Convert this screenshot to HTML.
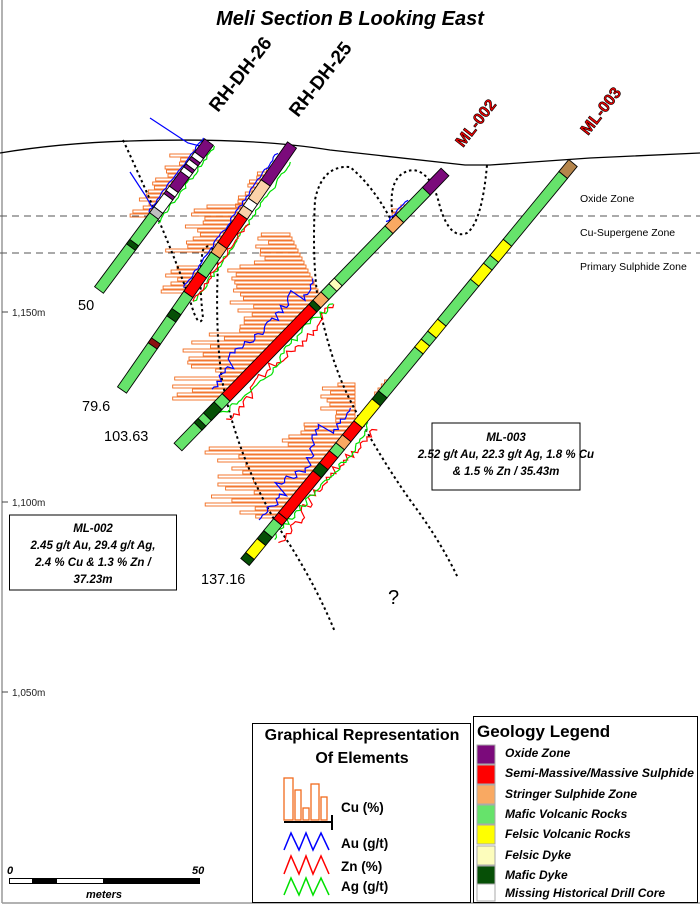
<!DOCTYPE html>
<html><head><meta charset="utf-8"><style>
html,body{margin:0;padding:0;background:#fff}
svg{display:block}
text{font-family:"Liberation Sans",sans-serif}
.lg{font-weight:bold;font-style:italic;font-size:12px}
</style></head><body>
<svg id="s" width="700" height="905" viewBox="0 0 700 905" xmlns="http://www.w3.org/2000/svg">
<rect x="0" y="0" width="700" height="905" fill="#fff"/>
<line x1="2" y1="0" x2="2" y2="903" stroke="#999" stroke-width="1.5"/>
<line x1="2" y1="903" x2="700" y2="903" stroke="#999" stroke-width="1.5"/>
<text x="350" y="25" text-anchor="middle" font-size="20" font-weight="bold" font-style="italic">Meli Section B Looking East</text>
<line x1="0" y1="216" x2="700" y2="216" stroke="#555" stroke-width="1" stroke-dasharray="7,5"/>
<line x1="0" y1="253" x2="700" y2="253" stroke="#555" stroke-width="1" stroke-dasharray="7,5"/>
<text x="580" y="202" font-size="10.5">Oxide Zone</text>
<text x="580" y="236" font-size="10.5">Cu-Supergene Zone</text>
<text x="580" y="270" font-size="10.5">Primary Sulphide Zone</text>
<path d="M0,153 Q60,143 130,141 Q250,137 330,150 L465,165 L490,165 L590,158 L700,153" fill="none" stroke="#000" stroke-width="1.3"/>
<g font-size="10" fill="#222">
<line x1="2" y1="312" x2="8" y2="312" stroke="#444"/><text x="12" y="316">1,150m</text>
<line x1="2" y1="502" x2="8" y2="502" stroke="#444"/><text x="12" y="506">1,100m</text>
<line x1="2" y1="692" x2="8" y2="692" stroke="#444"/><text x="12" y="696">1,050m</text>
</g>
<g id="bars" fill="none" stroke="#f26b1d" stroke-width="0.9"></g>
<g id="dots" fill="none" stroke="#000" stroke-width="2" stroke-dasharray="2.5,3">
<path d="M123,140 Q165,230 190,300 Q198,330 203,318 Q198,275 203,250 Q212,238 218,265 Q215,330 222,380 Q240,470 290,545 Q318,590 335,632"/>
<path d="M390,218 Q372,185 350,167 Q322,165 315,200 Q312,260 318,300 Q330,360 350,400 Q375,450 410,500 Q440,540 458,578"/>
<path d="M393,218 Q386,173 413,170 Q432,172 440,207 Q450,240 467,233 Q482,222 487,165"/>
</g>
<g id="elem" fill="none" stroke-width="1.2"></g>
<g id="holes" stroke="#000" stroke-width="0.9"></g>
<g font-weight="bold" font-size="19">
<text transform="translate(218,113) rotate(-52)">RH-DH-26</text>
<text transform="translate(298,118) rotate(-52)">RH-DH-25</text>
<text transform="translate(463,148) rotate(-52)" fill="#e00" stroke="#000" stroke-width="0.6" font-size="16">ML-002</text>
<text transform="translate(588,136) rotate(-52)" fill="#e00" stroke="#000" stroke-width="0.6" font-size="16">ML-003</text>
</g>
<g font-size="14.5">
<text x="78" y="310">50</text>
<text x="82" y="411">79.6</text>
<text x="104" y="441">103.63</text>
<text x="201" y="584">137.16</text>
<text x="388" y="604" font-size="20">?</text>
</g>
<rect x="432" y="423" width="148" height="67" fill="#fff" stroke="#000"/>
<g text-anchor="middle" font-weight="bold" font-style="italic" font-size="11.5">
<text x="506" y="441">ML-003</text>
<text x="506" y="458">2.52 g/t Au, 22.3 g/t Ag, 1.8 % Cu</text>
<text x="506" y="475">&amp; 1.5 % Zn / 35.43m</text>
</g>
<rect x="9.5" y="515" width="167" height="75" fill="#fff" stroke="#000"/>
<g text-anchor="middle" font-weight="bold" font-style="italic" font-size="11.5">
<text x="93" y="532">ML-002</text>
<text x="93" y="549">2.45 g/t Au, 29.4 g/t Ag,</text>
<text x="93" y="566">2.4 % Cu &amp; 1.3 % Zn /</text>
<text x="93" y="583">37.23m</text>
</g>
<text x="7" y="874" font-size="11" font-weight="bold" font-style="italic">0</text>
<text x="192" y="874" font-size="11" font-weight="bold" font-style="italic">50</text>
<rect x="9.5" y="878.5" width="190" height="5" fill="#fff" stroke="#000"/>
<rect x="32" y="878.5" width="25" height="5" fill="#000"/>
<rect x="103" y="878.5" width="97" height="5" fill="#000"/>
<text x="104" y="898" font-size="11" font-weight="bold" font-style="italic" text-anchor="middle">meters</text>
<rect x="252.5" y="723.5" width="218" height="179" fill="#fff" stroke="#000"/>
<g font-weight="bold" font-size="16" text-anchor="middle">
<text x="362" y="740">Graphical Representation</text>
<text x="362" y="763">Of Elements</text>
</g>
<g fill="#fff" stroke="#f26b1d" stroke-width="1.3">
<rect x="284" y="778" width="9" height="42"/><rect x="295" y="790" width="6" height="30"/>
<rect x="303" y="808" width="6" height="12"/><rect x="311" y="784" width="8" height="36"/>
<rect x="321" y="797" width="6" height="23"/>
</g>
<line x1="284" y1="822" x2="332" y2="822" stroke="#000" stroke-width="2"/>
<line x1="332" y1="815" x2="332" y2="830" stroke="#000" stroke-width="2"/>
<polyline points="284,850 291,833 299,850 306,833 313,850 321,833 329,850" fill="none" stroke="#0000ff" stroke-width="1.5"/>
<polyline points="284,874 291,856 299,874 306,856 313,874 321,856 329,874" fill="none" stroke="#ff0000" stroke-width="1.5"/>
<polyline points="284,895 291,878 299,895 306,878 313,895 321,878 329,895" fill="none" stroke="#00e000" stroke-width="1.5"/>
<g font-weight="bold" font-size="13.5">
<text x="341" y="812">Cu (%)</text>
<text x="341" y="848">Au (g/t)</text>
<text x="341" y="871">Zn (%)</text>
<text x="341" y="891">Ag (g/t)</text>
</g>
<rect x="473.5" y="716.5" width="224" height="186" fill="#fff" stroke="#000"/>
<text x="477" y="737" font-weight="bold" font-size="17">Geology Legend</text>
<g stroke="#aaa">
<rect x="477" y="745" width="18" height="19" fill="#7b0a7b"/>
<rect x="477" y="765" width="18" height="19" fill="#ff0000"/>
<rect x="477" y="785" width="18" height="19" fill="#f9a962"/>
<rect x="477" y="805" width="18" height="19" fill="#66e36b"/>
<rect x="477" y="825" width="18" height="19" fill="#ffff00"/>
<rect x="477" y="846" width="18" height="19" fill="#fdfdbc"/>
<rect x="477" y="866" width="18" height="19" fill="#064f06"/>
<rect x="477" y="884" width="18" height="17" fill="#fff"/>
</g>
<g class="lg">
<text x="505" y="757">Oxide Zone</text>
<text x="505" y="777" textLength="189" lengthAdjust="spacingAndGlyphs">Semi-Massive/Massive Sulphide</text>
<text x="505" y="798">Stringer Sulphide Zone</text>
<text x="505" y="818">Mafic Volcanic Rocks</text>
<text x="505" y="838">Felsic Volcanic Rocks</text>
<text x="505" y="859">Felsic Dyke</text>
<text x="505" y="879">Mafic Dyke</text>
<text x="505" y="897">Missing Historical Drill Core</text>
</g>
</svg>
<script>
(function(){
var NS="http://www.w3.org/2000/svg";
function el(p,n,a){var e=document.createElementNS(NS,n);for(var k in a)e.setAttribute(k,a[k]);document.getElementById(p).appendChild(e);return e;}
var seed=7;function r(){seed=(seed*16807)%2147483647;return seed/2147483647;}
var P="#7b0a7b",R="#ff0000",O="#f9a962",G="#66e36b",Y="#ffff00",FD="#fdfdbc",DG="#064f06",W="#fff",PE="#fbd2a9",BR="#b5854b",GR="#c0c0c0",DR="#8b1010";
var H={
rh26:[209,142,99,290,[[0,.09,P],[.09,.12,W],[.12,.14,P],[.14,.17,W],[.17,.19,P],[.19,.22,W],[.22,.32,P],[.32,.35,W],[.35,.37,P],[.37,.46,W],[.46,.5,GR],[.5,1,G],[.68,.71,DG]]],
rh25:[292,145,122,390,[[0,.155,P],[.155,.23,PE],[.23,.26,W],[.26,.29,PE],[.29,.41,R],[.41,.45,O],[.45,.53,G],[.53,.61,R],[.61,1,G],[.68,.71,DG],[.8,.82,DR]]],
ml2:[445,172,178,447,[[0,.07,P],[.07,.17,G],[.17,.21,O],[.21,.45,G],[.4,.42,FD],[.45,.48,O],[.48,.495,DG],[.495,.82,R],[.82,1,G],[.85,.89,DG],[.91,.925,DG]]],
ml3:[573,163,245,562,[[0,.03,BR],[.03,.2,G],[.2,.24,Y],[.24,.26,G],[.26,.3,Y],[.3,.4,G],[.4,.43,Y],[.43,.45,G],[.45,.47,Y],[.47,.58,G],[.58,.6,DG],[.6,.655,Y],[.655,.69,R],[.69,.71,O],[.71,.73,G],[.73,.885,R],[.76,.78,DG],[.885,.9,R],[.9,.93,G],[.93,.95,DG],[.95,.985,Y],[.985,1,DG]]]
};
function geo(h){var x0=h[0],y0=h[1],x1=h[2],y1=h[3],dx=x1-x0,dy=y1-y0,L=Math.hypot(dx,dy);dx/=L;dy/=L;
return {p:function(t){return [x0+(x1-x0)*t,y0+(y1-y0)*t];},n:[-dy,dx],L:L};}
function ax(h,y){return h[0]+(h[2]-h[0])*(y-h[1])/(h[3]-h[1]);}
function bars(h,y0,y1,lenF,rOff){for(var y=y0;y<=y1;y+=4){var xr=ax(h,y)-(rOff||6);if(typeof rOff=="function")xr=rOff(y);var l=lenF(y);
 el("bars","rect",{x:(xr-l).toFixed(1),y:y.toFixed(1),width:l.toFixed(1),height:3});}}
bars(H.rh26,150,214,function(y){return 4+r()*22;});
bars(H.rh25,168,205,function(y){return 3+r()*10;});
bars(H.rh25,205,250,function(y){return 20+r()*30;});
bars(H.rh25,266,290,function(y){return 15+r()*18;});
bars(H.ml2,233,398,function(y){var xr=Math.min(ax(H.ml2,y)-5,290+(y-233)*0.5);var xl=y<260?255+r()*15:(y<330?222+r()*35:168+r()*60);return Math.max(5,xr-xl);},function(y){return Math.min(ax(H.ml2,y)-5,290+(y-233)*0.5);});
bars(H.ml3,383,515,function(y){var xr=Math.min(ax(H.ml3,y)-5,355);var xl=y<420?318+r()*20:(y<445?282+r()*25:205+r()*55);return Math.max(5,xr-xl);},function(y){return Math.min(ax(H.ml3,y)-5,355);});
bars(H.ml2,205,215,function(){return 6+r()*6;});
bars(H.ml3,380,395,function(){return 4;});
function wig(h,t0,t1,side,base,amp,col){var g=geo(h),pts=[];var n=Math.round((t1-t0)*g.L/3);for(var i=0;i<=n;i++){var t=t0+(t1-t0)*i/n;var p=g.p(t);var o=side*(base(t)+r()*amp);pts.push((p[0]+g.n[0]*o).toFixed(1)+","+(p[1]+g.n[1]*o).toFixed(1));}
el("elem","polyline",{points:pts.join(" "),stroke:col});}
function c(v){return function(){return v;};}
wig(H.ml2,.44,.83,1,function(t){return 8+Math.sin(t*18)*5+(t>.5&&t<.75?12:0);},8,"#0000ff");
wig(H.ml2,.45,.86,-1,function(t){return 10+Math.sin(t*25)*4;},8,"#ff0000");
wig(H.ml2,.45,.86,-1,function(t){return 8+Math.sin(t*20)*3;},6,"#00e000");
wig(H.ml2,.12,.2,1,c(6),2,"#0000ff");
wig(H.ml3,.64,.92,1,function(t){return 8+(t>.7&&t<.85?Math.sin(t*30)*10+12:2);},8,"#0000ff");
wig(H.ml3,.64,.93,-1,function(t){return 9+Math.sin(t*22)*4;},9,"#ff0000");
wig(H.ml3,.64,.93,-1,function(t){return 7+Math.sin(t*19)*3;},6,"#00e000");
wig(H.rh25,.05,.6,1,c(6),3,"#0000ff");
wig(H.rh25,.05,.62,-1,c(7),4,"#00e000");
wig(H.rh25,.3,.62,-1,c(6),4,"#ff0000");
wig(H.rh26,.0,.5,1,c(6),2,"#0000ff");
wig(H.rh26,.0,.52,-1,c(6),3,"#00e000");
el("elem","polyline",{points:"150,118 188,143 200,146",stroke:"#0000ff"});
el("elem","polyline",{points:"130,172 145,195 152,207",stroke:"#0000ff"});
for(var k in H){var h=H[k],g=geo(h),w=5.5;h[4].forEach(function(s){var a=g.p(s[0]),b=g.p(s[1]);
 var pts=[[a[0]+g.n[0]*w,a[1]+g.n[1]*w],[b[0]+g.n[0]*w,b[1]+g.n[1]*w],[b[0]-g.n[0]*w,b[1]-g.n[1]*w],[a[0]-g.n[0]*w,a[1]-g.n[1]*w]];
 el("holes","polygon",{points:pts.map(function(q){return q[0].toFixed(1)+","+q[1].toFixed(1);}).join(" "),fill:s[2]});});}
})();
</script>
</body></html>
